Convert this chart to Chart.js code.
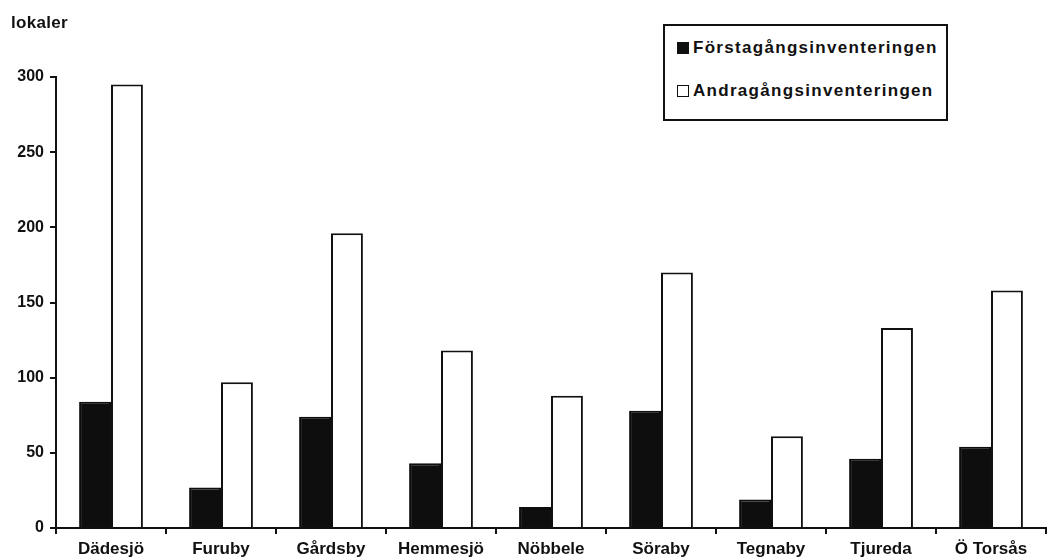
<!DOCTYPE html>
<html>
<head>
<meta charset="utf-8">
<script src="https://cdn.jsdelivr.net/npm/chart.js@4"></script>
<style>
  html, body { margin: 0; padding: 0; background: #fff; }
  #wrap { position: relative; width: 1062px; height: 558px; }
  #ylabel { position: absolute; left: 11px; top: 13px; font: bold 17px "Liberation Sans", Arial, sans-serif; color: #111; letter-spacing: 0.3px; }
  #legend { position: absolute; left: 663px; top: 24px; width: 281px; height: 93px; border: 2px solid #111; background: #fff;
            font: bold 17px "Liberation Sans", Arial, sans-serif; color: #111; letter-spacing: 1.3px; }
  #legend div { position: absolute; left: 12px; white-space: nowrap; }
  #legend span { display: inline-block; width: 12px; height: 12px; border: 1.5px solid #111; margin-right: 4px; vertical-align: -1px; box-sizing: border-box; }
</style>
</head>
<body>
<div id="wrap">
  <canvas id="myChart" width="1062" height="558"></canvas>
  <div id="ylabel">lokaler</div>
  <div id="legend"></div>
</div>
<script>
var Labels = ['Dädesjö', 'Furuby', 'Gårdsby', 'Hemmesjö', 'Nöbbele', 'Söraby', 'Tegnaby', 'Tjureda', 'Ö Torsås'];
var FirstInv = [84, 27, 74, 43, 14, 78, 19, 46, 54];
var SecondInv = [295, 97, 196, 118, 88, 170, 61, 133, 158];
var SeriesNames = ['Förstagångsinventeringen', 'Andragångsinventeringen'];
var YTicks = [0, 50, 100, 150, 200, 250, 300];

var font = { family: '"Liberation Sans", Arial, sans-serif', size: 17, weight: 'bold' };

var ctx = document.getElementById('myChart').getContext('2d');
var myChart = new Chart(ctx, {
    type: 'bar',
    data: {
        labels: Labels,
        datasets: [{
            label: SeriesNames[0],
            data: FirstInv,
            backgroundColor: '#0e0e0e',
            borderColor: '#0e0e0e',
            borderWidth: 2
        },
        {
            label: SeriesNames[1],
            data: SecondInv,
            backgroundColor: '#fff',
            borderColor: '#111',
            borderWidth: 2
        }]
    },
    options: {
        responsive: false,
        animation: false,
        layout: { padding: { top: 77, right: 16, left: 0, bottom: 0 } },
        plugins: {
            legend: { display: false },
            tooltip: { enabled: false }
        },
        datasets: {
            bar: { categoryPercentage: 0.58, barPercentage: 1.0 }
        },
        scales: {
            y: {
                min: 0,
                max: 300,
                afterFit: function (s) { s.width = 56; },
                afterBuildTicks: function (s) { s.ticks = YTicks.map(function (v) { return { value: v }; }); },
                ticks: { color: '#111', font: { family: font.family, size: 16, weight: 'bold' }, padding: 6 },
                grid: { drawOnChartArea: false, drawTicks: true, tickLength: 6, color: '#111', lineWidth: 2 },
                border: { color: '#111', width: 2 }
            },
            x: {
                afterFit: function (s) { s.height = 30; },
                ticks: { color: '#111', font: font, padding: 5, maxRotation: 0, autoSkip: false },
                grid: { drawOnChartArea: false, drawTicks: true, tickLength: 6, color: '#111', lineWidth: 2, offset: true },
                border: { color: '#111', width: 2 }
            }
        }
    }
});

// legend box built from the dataset labels
var lg = document.getElementById('legend');
myChart.data.datasets.forEach(function (ds, i) {
    var row = document.createElement('div');
    row.style.top = (i === 0 ? 12 : 55) + 'px';
    var sw = document.createElement('span');
    sw.style.background = ds.backgroundColor;
    row.appendChild(sw);
    row.appendChild(document.createTextNode(ds.label));
    lg.appendChild(row);
});
</script>
</body>
</html>
